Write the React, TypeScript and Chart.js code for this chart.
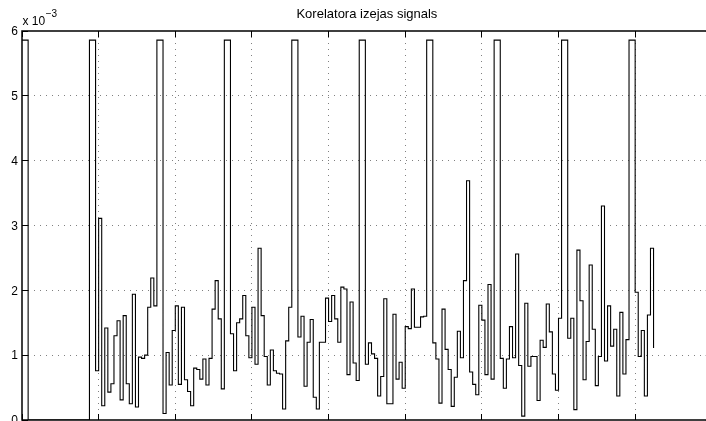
import React, { useEffect, useRef } from 'react';
import { Chart, registerables } from 'chart.js';

Chart.register(...registerables);

const FONT_FAMILY = '"Liberation Sans", Arial, Helvetica, sans-serif';

const chartTitle = 'Korelatora izejas signals';
const scaleNoteBase = 'x 10';
const scaleNoteExponent = '\u22123';

const xAxisMax = 225;
const xTickValues = [0, 25, 50, 75, 100, 125, 150, 175, 200, 225];
const yAxisMax = 6;
const yTickValues = [0, 1, 2, 3, 4, 5, 6];

// Correlator output (units of 1e-3), one value per sample, frames of 22 samples
const frame1 = [5.86, 5.86, 0, 0, 0, 0, 0, 0, 0, 0, 0, 0, 0, 0, 0, 0, 0, 0, 0, 0, 0, 0];
const frame2 = [5.86, 5.86, 0.76, 3.11, 0.22, 1.42, 0.43, 0.56, 1.30, 1.53, 0.31, 1.61, 0.56, 0.25, 1.94, 0.20, 0.97, 0.95, 1.00, 1.74, 2.19, 1.76];
const frame3 = [5.86, 5.86, 0.10, 1.04, 0.54, 1.38, 1.76, 0.55, 1.74, 0.62, 0.44, 0.22, 0.80, 0.78, 0.63, 0.94, 0.54, 0.95, 1.71, 2.15, 1.56, 0.48];
const frame4 = [5.86, 5.86, 1.33, 0.76, 1.50, 1.56, 1.92, 1.30, 0.96, 1.74, 0.86, 2.65, 1.61, 0.98, 0.54, 1.08, 0.76, 0.72, 0.71, 0.17, 1.22, 1.74];
const frame5 = [5.86, 5.86, 1.28, 1.60, 0.52, 1.20, 1.55, 0.35, 0.17, 1.20, 1.20, 1.88, 1.52, 1.92, 1.56, 1.20, 2.05, 2.02, 0.70, 1.82, 0.88, 0.61];
const frame6 = [5.86, 5.86, 0.86, 1.19, 1.02, 0.95, 0.37, 0.67, 1.87, 0.25, 0.25, 1.63, 0.63, 0.89, 0.49, 1.44, 1.41, 2.02, 1.43, 1.43, 1.59, 1.60];
const frame7 = [5.86, 5.86, 1.19, 0.94, 0.26, 1.71, 1.09, 0.78, 0.21, 0.66, 1.37, 0.96, 2.15, 3.69, 0.74, 0.55, 0.39, 1.77, 1.54, 0.70, 2.09, 0.63];
const frame8 = [5.86, 5.86, 0.95, 0.49, 0.94, 1.44, 0.96, 2.56, 0.84, 0.06, 1.80, 0.83, 0.98, 0.98, 0.30, 1.23, 1.12, 1.79, 1.36, 0.71, 0.46, 1.57];
const frame9 = [5.86, 5.86, 1.26, 1.57, 0.16, 2.62, 1.84, 0.62, 1.21, 2.39, 1.40, 0.53, 0.98, 3.30, 0.91, 1.76, 1.14, 1.40, 0.37, 1.66, 0.71, 1.24];
const frame10 = [5.86, 5.86, 1.97, 0.98, 1.38, 0.37, 1.62, 2.65, 1.11];

const samples = [
  ...frame1, ...frame2, ...frame3, ...frame4, ...frame5,
  ...frame6, ...frame7, ...frame8, ...frame9, ...frame10,
];

const matlabAxes = {
  id: 'matlabAxes',
  beforeDatasetsDraw(chart: any) {
    const { ctx, chartArea: a, scales } = chart;
    const x = scales.x;
    const y = scales.y;
    ctx.save();
    ctx.strokeStyle = '#808080';
    ctx.lineWidth = 1;
    ctx.setLineDash([1, 5]);
    xTickValues.forEach((v) => {
      const px = Math.floor(x.getPixelForValue(v)) + 0.5;
      if (px <= a.left + 2 || px >= a.right - 2) return;
      ctx.beginPath();
      ctx.moveTo(px, a.top);
      ctx.lineTo(px, a.bottom);
      ctx.stroke();
    });
    yTickValues.forEach((v) => {
      const py = Math.floor(y.getPixelForValue(v)) + 0.5;
      if (py <= a.top + 2 || py >= a.bottom - 2) return;
      ctx.beginPath();
      ctx.moveTo(a.left, py);
      ctx.lineTo(a.right, py);
      ctx.stroke();
    });
    ctx.restore();
  },
  afterDatasetsDraw(chart: any) {
    const { ctx, chartArea: a, scales } = chart;
    const x = scales.x;
    const y = scales.y;
    const tick = 6;
    ctx.save();
    ctx.setLineDash([]);
    ctx.strokeStyle = '#000';
    ctx.lineWidth = 1;
    xTickValues.forEach((v) => {
      const px = Math.floor(x.getPixelForValue(v)) + 0.5;
      ctx.beginPath();
      ctx.moveTo(px, a.top);
      ctx.lineTo(px, a.top + tick);
      ctx.moveTo(px, a.bottom);
      ctx.lineTo(px, a.bottom - tick);
      ctx.stroke();
    });
    yTickValues.forEach((v) => {
      const py = Math.floor(y.getPixelForValue(v)) + 0.5;
      ctx.beginPath();
      ctx.moveTo(a.left, py);
      ctx.lineTo(a.left + tick, py);
      ctx.moveTo(a.right, py);
      ctx.lineTo(a.right - tick, py);
      ctx.stroke();
    });
    ctx.lineWidth = 1.5;
    ctx.strokeStyle = '#000';
    ctx.beginPath();
    ctx.moveTo(a.left, a.bottom);
    ctx.lineTo(a.left, a.top);
    ctx.lineTo(a.right, a.top);
    ctx.lineTo(a.right, a.bottom);
    ctx.closePath();
    ctx.stroke();

    ctx.fillStyle = '#000';
    ctx.textBaseline = 'alphabetic';
    ctx.textAlign = 'left';
    ctx.font = `12px ${FONT_FAMILY}`;
    const bx = a.left + 0.5;
    ctx.fillText(scaleNoteBase, bx, a.top - 6);
    const w = ctx.measureText(scaleNoteBase).width;
    ctx.font = `10px ${FONT_FAMILY}`;
    ctx.fillText(scaleNoteExponent, bx + w + 0.5, a.top - 14);
    ctx.restore();
  },
};

export default function App() {
  const canvasRef = useRef<HTMLCanvasElement | null>(null);

  useEffect(() => {
    const prevMargin = document.body.style.margin;
    document.body.style.margin = '0';
    const canvas = canvasRef.current;
    if (!canvas) return;
    const chart = new Chart(canvas, {
      type: 'line',
      data: {
        datasets: [
          {
            data: samples.map((v, i) => ({ x: i, y: v })),
            borderColor: '#000',
            borderWidth: 1.1,
            pointRadius: 0,
            stepped: true,
            fill: false,
          },
        ],
      },
      options: {
        responsive: false,
        animation: false,
        devicePixelRatio: 1,
        events: [],
        layout: { padding: { left: 0, top: 0, right: 8.2, bottom: 1 } },
        plugins: {
          legend: { display: false },
          tooltip: { enabled: false },
          title: {
            display: true,
            text: chartTitle,
            fullSize: false,
            color: '#000',
            font: { family: FONT_FAMILY, size: 13, weight: 'normal', lineHeight: 1.2 },
            padding: { top: 7, bottom: 8.4 },
          },
        },
        scales: {
          x: {
            type: 'linear',
            min: 0,
            max: xAxisMax,
            ticks: { display: false, stepSize: 25 },
            grid: { display: false, drawTicks: false },
            border: { display: false },
            afterFit: (s: any) => {
              s.height = 0;
              s.paddingLeft = 0;
              s.paddingRight = 0;
              s.paddingTop = 0;
              s.paddingBottom = 0;
            },
          },
          y: {
            type: 'linear',
            min: 0,
            max: yAxisMax,
            ticks: {
              stepSize: 1,
              color: '#000',
              font: { family: FONT_FAMILY, size: 12 },
              padding: 4,
              labelOffset: 1,
            },
            grid: { display: false, drawTicks: false },
            border: { display: false },
            afterFit: (s: any) => {
              s.width = 22;
              s.paddingTop = 0;
              s.paddingBottom = 0;
              s.paddingLeft = 0;
              s.paddingRight = 0;
            },
          },
        },
      },
      plugins: [matlabAxes],
    } as any);
    return () => {
      chart.destroy();
      document.body.style.margin = prevMargin;
    };
  }, []);

  return (
    <div
      style={{
        position: 'absolute',
        left: 0,
        top: 0,
        width: 706,
        height: 421,
        overflow: 'hidden',
        background: '#fff',
      }}
    >
      <canvas ref={canvasRef} width={720} height={421} style={{ display: 'block' }} />
    </div>
  );
}
